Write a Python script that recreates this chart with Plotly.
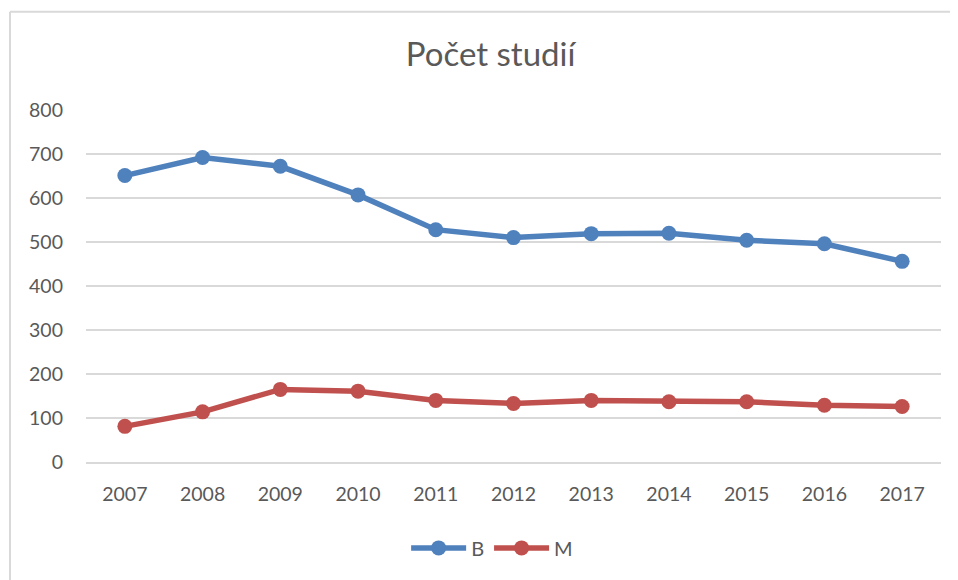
import plotly.graph_objects as go

years = ["2007", "2008", "2009", "2010", "2011", "2012", "2013", "2014", "2015", "2016", "2017"]
b_values = [651, 692, 672, 607, 528, 510, 519, 520, 504, 496, 456]
m_values = [81, 114, 165, 161, 140, 133, 140, 137, 137, 129, 126]
y_ticks = [0, 100, 200, 300, 400, 500, 600, 700, 800]

BLUE = "#4F81BD"
RED = "#C0504D"
TEXT = "#595959"
GRID = "#D9D9D9"
FONT = "Lato, Open Sans, sans-serif"

fig = go.Figure()
fig.add_trace(go.Scatter(
    x=years, y=b_values, name="B", mode="lines+markers",
    line=dict(color=BLUE, width=5.5), marker=dict(color=BLUE, size=15),
))
fig.add_trace(go.Scatter(
    x=years, y=m_values, name="M", mode="lines+markers",
    line=dict(color=RED, width=5.5), marker=dict(color=RED, size=15),
))

fig.update_layout(
    width=950, height=572,
    margin=dict(l=78, r=17, t=102, b=109),
    paper_bgcolor="white", plot_bgcolor="white",
    font=dict(family=FONT, color=TEXT, size=19.5),
    title=dict(text="Počet studií", x=0.508, xanchor="center", y=0.918, yanchor="middle",
               font=dict(family=FONT, size=33, color=TEXT)),
    showlegend=True,
    legend=dict(orientation="h", x=0.475, xanchor="center", y=-0.244, yanchor="middle",
                font=dict(family=FONT, size=20, color=TEXT), itemwidth=55,
                bgcolor="rgba(0,0,0,0)"),
    hovermode=False,
)
fig.update_xaxes(
    type="category", range=[-0.5, len(years) - 0.5],
    showgrid=False, showline=True, linecolor=GRID, linewidth=1.5,
    ticks="", tickfont=dict(family=FONT, size=19.5, color=TEXT), ticklabelstandoff=14,
    fixedrange=True,
)
fig.update_yaxes(
    range=[0, 800], tickvals=y_ticks, showgrid=True, gridcolor=GRID, gridwidth=1.5,
    zeroline=False, showline=False, ticks="",
    tickfont=dict(family=FONT, size=19.5, color=TEXT), ticklabelstandoff=22,
    fixedrange=True,
)

# outer chart frame (left and top edges visible in the crop)
fig.add_shape(type="line", xref="paper", yref="paper", x0=-0.0889, x1=1.03, y0=1.279, y1=1.279,
              line=dict(color=GRID, width=2))
fig.add_shape(type="line", xref="paper", yref="paper", x0=-0.0889, x1=-0.0889, y0=1.279, y1=-0.35,
              line=dict(color=GRID, width=2))

fig.write_html("out.html", config={"displayModeBar": False})
